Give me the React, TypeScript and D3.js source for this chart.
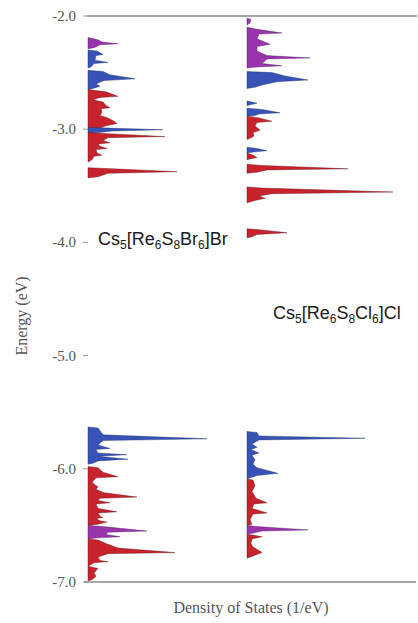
import React from "react";
import * as d3 from "d3";

type Pt = [number, number];

// Energy ticks
const yTicks = [-2.0, -3.0, -4.0, -5.0, -6.0, -7.0];

// Cs5[Re6S8Br6]Br (left panel) DOS blocks: [energy eV, DOS]
const brPurpleTop: Pt[] = [[-2.19,0],[-2.21,1.0],[-2.23,1.4],[-2.245,3.0],[-2.255,1.2],[-2.28,0.6],[-2.29,0]];
const brBlueA: Pt[] = [[-2.30,0],[-2.31,0.9],[-2.34,1.5],[-2.35,0.8],[-2.39,0.7],[-2.41,2.0],[-2.42,0.6],[-2.45,0.3],[-2.46,0]];
const brBlueB: Pt[] = [[-2.48,0],[-2.49,1.5],[-2.52,2.2],[-2.555,4.7],[-2.57,1.6],[-2.60,0.8],[-2.62,1.2],[-2.64,0.5],[-2.65,0]];
const brRedA: Pt[] = [[-2.65,0],[-2.67,1.8],[-2.71,3.0],[-2.72,1.2],[-2.74,0.5],[-2.76,1.5],[-2.79,1.8],[-2.81,2.2],[-2.82,1.3],[-2.85,1.4],[-2.88,1.2],[-2.90,2.0],[-2.93,2.6],[-2.95,2.9],[-2.97,1.8],[-2.99,1.2],[-3.00,0]];
const brBlueC: Pt[] = [[-2.985,0],[-2.99,2.0],[-3.005,7.5],[-3.015,2.5],[-3.03,1.0],[-3.035,0]];
const brRedB: Pt[] = [[-3.03,0],[-3.04,2.0],[-3.065,7.7],[-3.075,2.0],[-3.10,1.5],[-3.12,2.2],[-3.13,1.0],[-3.15,1.2],[-3.17,1.9],[-3.18,0.8],[-3.21,0.9],[-3.23,1.4],[-3.24,0.6],[-3.27,0.4],[-3.29,0]];
const brRedC: Pt[] = [[-3.34,0],[-3.35,2.5],[-3.375,8.9],[-3.39,2.0],[-3.42,1.0],[-3.43,0]];
const brBlueLow: Pt[] = [[-5.63,0],[-5.64,1.0],[-5.70,1.5],[-5.735,11.9],[-5.75,1.5],[-5.79,1.0],[-5.82,2.2],[-5.83,0.8],[-5.86,1.0],[-5.875,3.9],[-5.89,1.0],[-5.915,4.0],[-5.93,1.0],[-5.95,0.5],[-5.96,0]];
const brRedLowA: Pt[] = [[-5.98,0],[-5.99,1.0],[-6.03,1.5],[-6.07,3.0],[-6.08,0.8],[-6.12,0.4],[-6.16,1.0],[-6.18,0.8],[-6.21,1.5],[-6.25,4.9],[-6.26,1.2],[-6.28,1.0],[-6.30,2.2],[-6.31,0.8],[-6.35,1.0],[-6.38,2.9],[-6.39,1.0],[-6.42,1.2],[-6.43,1.5],[-6.44,0.8],[-6.46,1.2],[-6.47,1.9],[-6.49,1.0],[-6.50,0]];
const brPurpleLow: Pt[] = [[-6.50,0],[-6.51,1.5],[-6.55,5.9],[-6.56,2.0],[-6.58,1.8],[-6.60,3.2],[-6.61,1.0],[-6.62,0]];
const brRedLowB: Pt[] = [[-6.62,0],[-6.63,1.0],[-6.66,1.8],[-6.70,3.0],[-6.74,8.7],[-6.75,2.0],[-6.78,1.0],[-6.81,1.2],[-6.82,2.0],[-6.83,0.6],[-6.86,0]];
const brRedLowC: Pt[] = [[-6.86,0],[-6.88,1.0],[-6.92,0.6],[-6.95,0.8],[-6.98,0.4],[-6.99,0]];

// Cs5[Re6S8Cl6]Cl (right panel) DOS blocks
const clPurpleTiny: Pt[] = [[-2.02,0],[-2.03,0.4],[-2.06,0.3],[-2.08,0]];
const clPurpleTop: Pt[] = [[-2.10,0],[-2.12,1.2],[-2.15,3.5],[-2.16,1.2],[-2.20,1.0],[-2.25,2.3],[-2.27,1.0],[-2.31,1.0],[-2.35,2.0],[-2.37,6.3],[-2.38,2.0],[-2.42,1.5],[-2.44,3.5],[-2.45,1.0],[-2.46,0]];
const clBlueA: Pt[] = [[-2.49,0],[-2.50,2.5],[-2.53,3.8],[-2.565,6.1],[-2.58,3.0],[-2.61,1.5],[-2.63,0.8],[-2.64,0]];
const clBlueB: Pt[] = [[-2.75,0],[-2.77,1.0],[-2.79,0]];
const clBlueC: Pt[] = [[-2.815,0],[-2.825,1.5],[-2.855,3.3],[-2.865,1.2],[-2.88,0.8],[-2.885,0]];
const clRedA: Pt[] = [[-2.885,0],[-2.90,1.2],[-2.93,2.5],[-2.94,1.0],[-2.97,0.8],[-3.01,1.3],[-3.03,0.6],[-3.06,0.7],[-3.08,0.3],[-3.09,0]];
const clBlueD: Pt[] = [[-3.16,0],[-3.17,1.0],[-3.19,2.0],[-3.20,0.8],[-3.21,0]];
const clRedB: Pt[] = [[-3.21,0],[-3.23,0.6],[-3.25,1.0],[-3.26,0.4],[-3.27,0]];
const clRedC: Pt[] = [[-3.31,0],[-3.32,1.5],[-3.35,10.1],[-3.36,2.0],[-3.38,1.0],[-3.39,0]];
const clRedD: Pt[] = [[-3.51,0],[-3.52,1.5],[-3.555,14.6],[-3.57,2.5],[-3.59,1.2],[-3.61,1.8],[-3.63,0.8],[-3.65,0]];
const clRedE: Pt[] = [[-3.88,0],[-3.89,1.5],[-3.915,4.0],[-3.93,1.0],[-3.95,0.5],[-3.96,0]];
const clBlueLow: Pt[] = [[-5.67,0],[-5.68,1.0],[-5.71,1.2],[-5.73,11.8],[-5.745,1.2],[-5.78,0.5],[-5.81,1.0],[-5.83,0.4],[-5.86,1.2],[-5.88,0.5],[-5.92,0.8],[-5.96,0.6],[-5.99,1.0],[-6.04,3.1],[-6.06,1.0],[-6.08,0.3],[-6.09,0]];
const clRedLowA: Pt[] = [[-6.09,0],[-6.10,0.6],[-6.15,0.8],[-6.20,0.5],[-6.26,0.9],[-6.30,2.0],[-6.31,0.7],[-6.35,0.5],[-6.39,2.0],[-6.40,0.6],[-6.45,0.3],[-6.49,0.5],[-6.50,0]];
const clPurpleLow: Pt[] = [[-6.50,0],[-6.51,1.0],[-6.54,6.1],[-6.55,1.5],[-6.57,0.5],[-6.58,0]];
const clRedLowB: Pt[] = [[-6.58,0],[-6.585,0.6],[-6.60,1.5],[-6.62,0.5],[-6.66,0.4],[-6.69,0.6],[-6.74,1.5],[-6.77,0.6],[-6.79,0]];

const RED = "#c8232c";
const BLUE = "#3753b8";
const PURPLE = "#9a34ad";
const STROKE: Record<string, string> = { [RED]: "#5a1015", [BLUE]: "#1a2a60", [PURPLE]: "#4a1558" };

const leftSeries: [Pt[], string][] = [
  [brPurpleTop, PURPLE], [brBlueA, BLUE], [brBlueB, BLUE], [brRedA, RED], [brBlueC, BLUE],
  [brRedB, RED], [brRedC, RED], [brBlueLow, BLUE], [brRedLowA, RED], [brPurpleLow, PURPLE],
  [brRedLowB, RED], [brRedLowC, RED],
];
const rightSeries: [Pt[], string][] = [
  [clPurpleTiny, PURPLE], [clPurpleTop, PURPLE], [clBlueA, BLUE], [clBlueB, BLUE], [clBlueC, BLUE],
  [clRedA, RED], [clBlueD, BLUE], [clRedB, RED], [clRedC, RED], [clRedD, RED], [clRedE, RED],
  [clBlueLow, BLUE], [clRedLowA, RED], [clPurpleLow, PURPLE], [clRedLowB, RED],
];

export default function App() {
  const W = 418, H = 623;
  const y = d3.scaleLinear().domain([-7, -2]).range([582, 16]);
  const xL = d3.scaleLinear().domain([0, 10]).range([88, 188]);
  const xR = d3.scaleLinear().domain([0, 10]).range([247, 347]);

  const mkArea = (x: d3.ScaleLinear<number, number>) =>
    d3.area<Pt>()
      .y((d) => y(d[0]))
      .x0(() => x(0))
      .x1((d) => x(d[1]))
      .curve(d3.curveLinear);

  const aL = mkArea(xL);
  const aR = mkArea(xR);
  const serif = "'Liberation Serif', 'DejaVu Serif', serif";
  const sans = "'Liberation Sans', Arial, sans-serif";

  const formula = (parts: [string, boolean][], x0: number, yb: number) => (
    <text x={x0} y={yb} fontFamily={sans} fontSize={18} fill="#1a1a1a">
      {parts.map(([t, sub], i) =>
        sub ? (
          <tspan key={i} fontSize={12} dy={4}>{t}</tspan>
        ) : (
          <tspan key={i} dy={i > 0 && parts[i - 1][1] ? -4 : 0}>{t}</tspan>
        )
      )}
    </text>
  );

  return (
    <svg width={W} height={H} style={{ position: "absolute", left: 0, top: 0, background: "#fff" }}>
      {/* frame lines */}
      <line x1={87} x2={417} y1={y(-2)} y2={y(-2)} stroke="#8a8a8a" strokeWidth={1.5} />
      <line x1={84} x2={416} y1={y(-7)} y2={y(-7)} stroke="#8a8a8a" strokeWidth={1.5} />

      {leftSeries.map(([d, c], i) => (
        <path key={"l" + i} d={aL(d) || ""} fill={c} stroke={STROKE[c]} strokeWidth={0.4} />
      ))}
      {rightSeries.map(([d, c], i) => (
        <path key={"r" + i} d={aR(d) || ""} fill={c} stroke={STROKE[c]} strokeWidth={0.4} />
      ))}

      {yTicks.map((t) => (
        <g key={t}>
          <line x1={83} x2={88} y1={y(t)} y2={y(t)} stroke="#999" strokeWidth={1} />
          <text x={76} y={y(t) + 5} textAnchor="end" fontFamily={serif} fontSize={15} fill="#555">
            {"-" + Math.abs(t).toFixed(1)}
          </text>
        </g>
      ))}

      <text
        transform={`translate(27, ${y(-4.65)}) rotate(-90)`}
        textAnchor="middle"
        fontFamily={serif}
        fontSize={16}
        fill="#555"
      >
        Energy (eV)
      </text>
      <text x={251} y={613} textAnchor="middle" fontFamily={serif} fontSize={16} fill="#555">
        Density of States (1/eV)
      </text>

      {formula([["Cs", false], ["5", true], ["[Re", false], ["6", true], ["S", false], ["8", true], ["Br", false], ["6", true], ["]Br", false]], 98, 245)}
      {formula([["Cs", false], ["5", true], ["[Re", false], ["6", true], ["S", false], ["8", true], ["Cl", false], ["6", true], ["]Cl", false]], 273, 319)}
    </svg>
  );
}
